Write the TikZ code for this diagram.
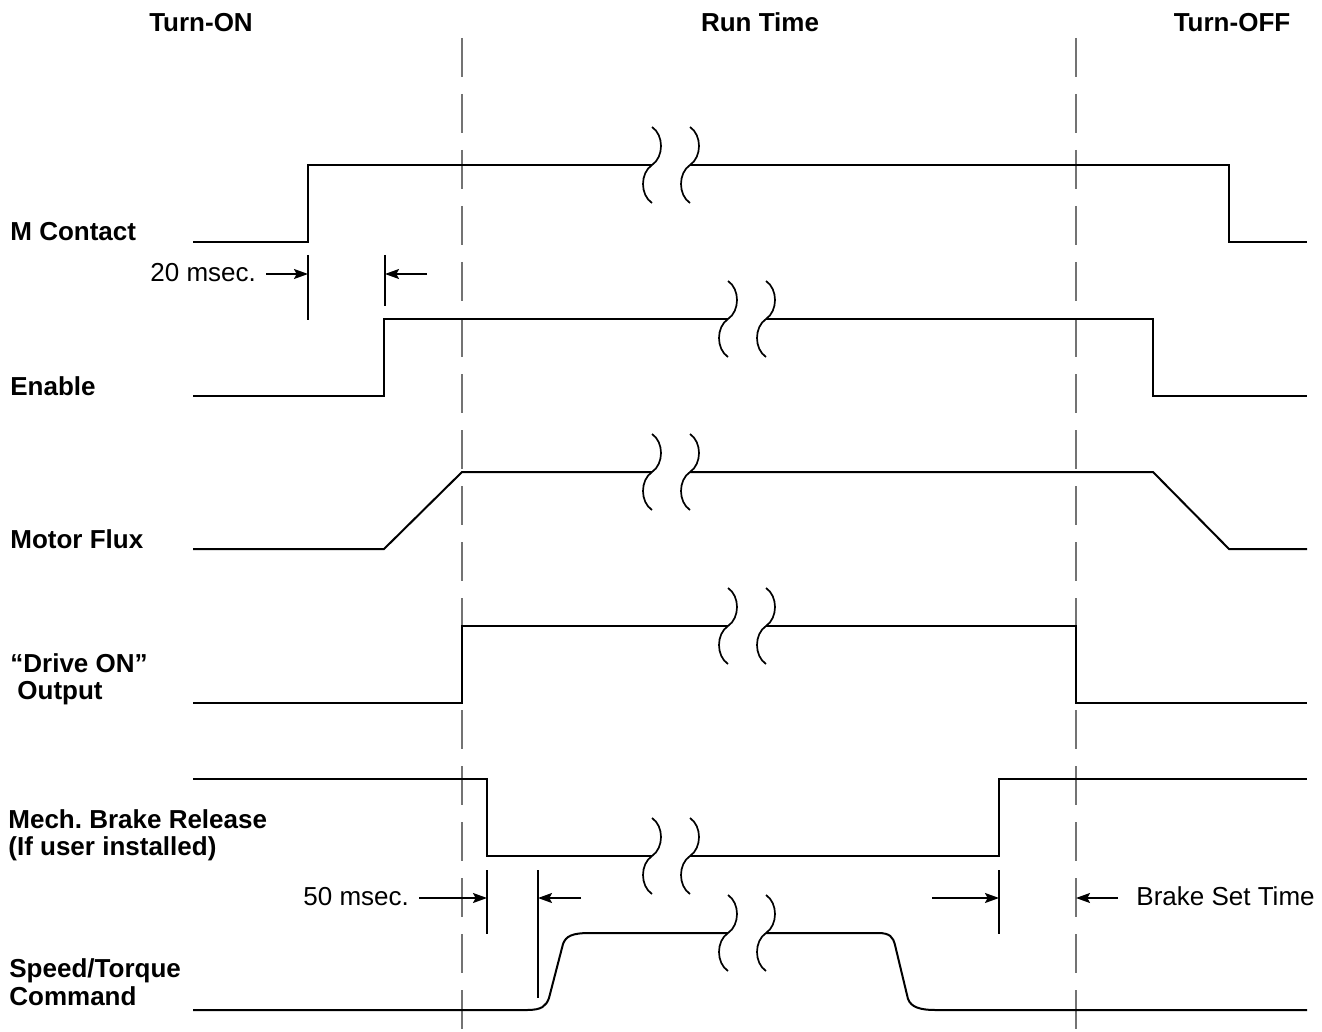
\documentclass[tikz,border=0pt]{standalone}
\usepackage{fontspec}
\setmainfont{Liberation Sans}
\usetikzlibrary{arrows.meta}
\frenchspacing
\begin{document}
\begin{tikzpicture}[x=0.5pt,y=-0.5pt,
  sig/.style={line width=1pt, line join=miter},
  guide/.style={draw=black!55, line width=0.6pt, dash pattern=on 19.5pt off 8.5pt},
  tickline/.style={line width=0.8pt},
  dim/.style={line width=0.7pt, -{Stealth[length=7pt,width=5pt,inset=1.3pt]}},
  lbl/.style={font=\fontsize{13}{15}\selectfont\bfseries, anchor=base west, inner sep=0},
  ttl/.style={font=\fontsize{13}{15}\selectfont\bfseries, anchor=base, inner sep=0},
  txt/.style={font=\fontsize{13}{15}\selectfont, inner sep=0},
  brkmark/.pic={
    \draw[line width=0.85pt] (0,-38) .. controls (12,-30) and (12,-8) .. (0,0)
          .. controls (-12,8) and (-12,30) .. (0,38);
    \draw[line width=0.85pt] (38,-38) .. controls (50,-30) and (50,-8) .. (38,0)
          .. controls (26,8) and (26,30) .. (38,38);
  }
]
\useasboundingbox (0,0) rectangle (1322,1032);

% guide lines
\draw[guide] (462,38) -- (462,1032);
\draw[guide] (1076,38) -- (1076,1032);

% titles
\node[ttl] (tOn)  at (201,32)  {Turn-ON};
\node[ttl] (tRun) at (760,32)  {Run Time};
\node[ttl] (tOff) at (1232,32) {Turn-OFF};

% labels
\node[lbl] (lM)   at (10,241)  {M Contact};
\node[lbl] (lE)   at (10,395)  {Enable};
\node[lbl] (lF)   at (10,548)  {Motor Flux};
\node[lbl] (lD1)  at (10,672)  {“Drive ON”};
\node[lbl] (lD2)  at (17,699)  {Output};
\node[lbl] (lB1)  at (8,828)   {Mech. Brake Release};
\node[lbl] (lB2)  at (8,855)   {(If user installed)};
\node[lbl] (lS1)  at (9,977)   {Speed/Torque};
\node[lbl] (lS2)  at (9,1005)  {Command};

% M Contact
\draw[sig] (193,242) -- (308,242) -- (308,165) -- (652,165);
\draw[sig] (690,165) -- (1229,165) -- (1229,242) -- (1307,242);
\pic at (652,165) {brkmark};

% Enable
\draw[sig] (193,396) -- (384,396) -- (384,319) -- (728,319);
\draw[sig] (766,319) -- (1153,319) -- (1153,396) -- (1307,396);
\pic at (728,319) {brkmark};

% Motor Flux
\draw[sig] (193,549) -- (384,549) -- (462,472) -- (652,472);
\draw[sig] (690,472) -- (1153,472) -- (1229,549) -- (1307,549);
\pic at (652,472) {brkmark};

% Drive ON
\draw[sig] (193,703) -- (462,703) -- (462,626) -- (728,626);
\draw[sig] (766,626) -- (1076,626) -- (1076,703) -- (1307,703);
\pic at (728,626) {brkmark};

% Mech brake
\draw[sig] (193,779) -- (487,779) -- (487,856) -- (652,856);
\draw[sig] (690,856) -- (999,856) -- (999,779) -- (1307,779);
\pic at (652,856) {brkmark};

% Speed / Torque
\draw[sig] (193,1010) -- (527,1010) .. controls (542,1010) and (546,1006) .. (549,998)
  -- (563,944) .. controls (566,936) and (572,933) .. (590,933) -- (728,933);
\draw[sig] (766,933) -- (878,933) .. controls (890,933) and (893,937) .. (895,945)
  -- (908,999) .. controls (911,1007) and (920,1010) .. (935,1010) -- (1307,1010);
\pic at (728,933) {brkmark};

% 20 msec
\coordinate (a1t) at (308,255); \coordinate (a1b) at (308,320);
\coordinate (a2t) at (385,255); \coordinate (a2b) at (385,306);
\draw[tickline] (a1t) -- (a1b);
\draw[tickline] (a2t) -- (a2b);
\node[txt, anchor=base west] (n20) at (150,282) {20 msec.};
\coordinate (a1s) at (266,274); \coordinate (a1e) at (308,274);
\coordinate (a2s) at (427,274); \coordinate (a2e) at (385,274);
\draw[dim] (a1s) -- (a1e);
\draw[dim] (a2s) -- (a2e);

% 50 msec
\coordinate (b1t) at (487,870); \coordinate (b1b) at (487,934);
\coordinate (b2t) at (538,870); \coordinate (b2b) at (538,998);
\draw[tickline] (b1t) -- (b1b);
\draw[tickline] (b2t) -- (b2b);
\node[txt, anchor=base west] (n50) at (303,905) {50 msec.};
\coordinate (b1s) at (419,898); \coordinate (b1e) at (487,898);
\coordinate (b2s) at (581,898); \coordinate (b2e) at (538,898);
\draw[dim] (b1s) -- (b1e);
\draw[dim] (b2s) -- (b2e);

% Brake set time
\coordinate (c1t) at (999,870); \coordinate (c1b) at (999,934);
\draw[tickline] (c1t) -- (c1b);
\coordinate (c1s) at (932,898); \coordinate (c1e) at (999,898);
\coordinate (c2s) at (1118,898); \coordinate (c2e) at (1076,898);
\draw[dim] (c1s) -- (c1e);
\draw[dim] (c2s) -- (c2e);
\node[txt, anchor=base west] (nBST) at (1136,905) {Brake Set Time};
\end{tikzpicture}
\end{document}
